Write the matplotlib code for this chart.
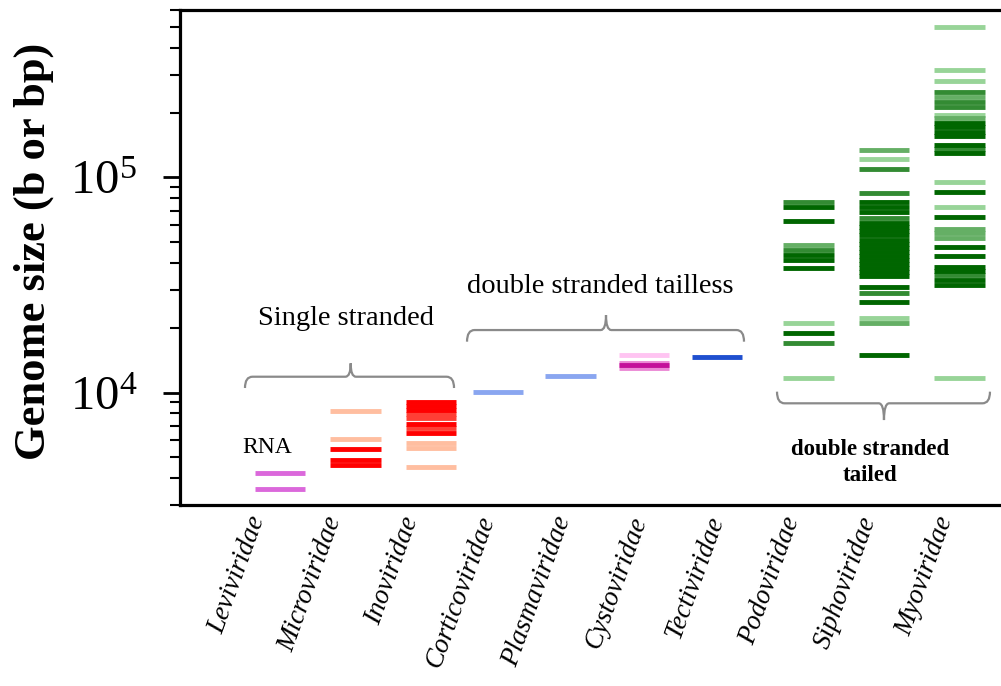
import numpy as np
import matplotlib
matplotlib.use('Agg')
import matplotlib.pyplot as plt
from matplotlib.path import Path
from matplotlib.patches import PathPatch
from matplotlib.colors import LinearSegmentedColormap
from matplotlib.ticker import FixedLocator, FuncFormatter, NullFormatter, LogLocator

plt.rcParams['font.family'] = ['Liberation Serif', 'DejaVu Serif']

# ---------------- data (genome sizes, b or bp; counts = genomes at that size) ----------------
families = ['Leviviridae', 'Microviridae', 'Inoviridae', 'Corticoviridae', 'Plasmaviridae',
            'Cystoviridae', 'Tectiviridae', 'Podoviridae', 'Siphoviridae', 'Myoviridae']

levi_sizes = [4236, 3548]
levi_counts = [2, 2]

micro_sizes = [8226, 6080, 5458, 4853, 4602]
micro_counts = [1, 1, 4, 4, 4]

ino_sizes = [9035, 8652, 8290, 7943, 7608, 7133, 6834, 6486, 5846, 5495, 4487]
ino_counts = [4, 4, 4, 3, 3, 4, 3, 4, 1, 1, 1]

cortico_sizes = [10021]
cortico_counts = [1]

plasma_sizes = [11970]
plasma_counts = [1]

cysto_sizes = [14938, 13700, 13384, 13050]
cysto_counts = [1, 2, 4, 2]

tecti_sizes = [14676]
tecti_counts = [4]

podo_sizes = [77190, 73140, 62950, 48530, 46030, 43600, 41300, 38020, 21120, 18850, 16940, 11720]
podo_counts = [3, 4, 4, 2, 3, 4, 4, 4, 1, 4, 3, 1]

sipho_sizes = [134300, 121500, 109200, 84440, 77190, 73140, 69340, 64570,
               61230, 58530, 56090, 53710, 51170, 49060, 46990, 45030, 43150,
               41300, 39630, 37930, 36350, 34640,
               31050, 28930, 26440, 22130, 21120, 14940]
sipho_counts = [2, 1, 3, 3, 4, 4, 4, 3,
                4, 4, 4, 4, 4, 4, 4, 4, 4,
                4, 4, 4, 4, 4,
                4, 3, 4, 1, 2, 4]

myo_sizes = [499500, 316200, 281200, 250600, 237500, 225200, 213400, 195300, 188400,
             178600, 171200, 163300, 156000, 141600, 135200, 129600,
             95610, 85900, 72680, 65310, 57410, 55020, 52130, 47640, 43150,
             38460, 36860, 35200, 33360, 31620, 11720]
myo_counts = [1, 1, 1, 3, 2, 3, 3, 1, 2,
              4, 4, 4, 4, 4, 3, 4,
              1, 4, 1, 4, 2, 2, 2, 4, 4,
              4, 4, 3, 4, 4, 1]

all_sizes = [levi_sizes, micro_sizes, ino_sizes, cortico_sizes, plasma_sizes,
             cysto_sizes, tecti_sizes, podo_sizes, sipho_sizes, myo_sizes]
all_counts = [levi_counts, micro_counts, ino_counts, cortico_counts, plasma_counts,
              cysto_counts, tecti_counts, podo_counts, sipho_counts, myo_counts]

# ---------------- style ----------------
light = ['#f09cf0', '#ffbea0', '#ffbea0', '#8aa6f0', '#8aa6f0',
         '#ffc4f2', '#8aa6f0', '#98d498', '#98d498', '#98d498']
dark = ['#b000b0', '#ff0000', '#ff0000', '#1f4fcf', '#1f4fcf',
        '#c4109a', '#1f4fcf', '#006600', '#006600', '#006600']
shift = [0, 0, 0, -0.11, -0.15, -0.18, -0.21, 0, 0, 0]
bar_w = 0.67

fig = plt.figure(figsize=(10.01, 6.86), dpi=100)
ax = fig.add_axes([0.1798, 0.2638, 0.8202, 0.7216])

for i in range(len(families)):
    cmap = LinearSegmentedColormap.from_list('c%d' % i, [light[i], dark[i]])
    sizes = np.array(all_sizes[i])
    counts = np.array(all_counts[i])
    order = np.argsort(counts, kind='stable')
    x = i + shift[i]
    ax.hlines(sizes[order], x - bar_w / 2, x + bar_w / 2,
              colors=cmap((counts[order] - 1) / 3.0), lw=3.5)

ax.set_yscale('log')
ax.set_ylim(3000, 6e5)
ax.set_xlim(-1.325, 9.55)

# axes frame
for s in ['left', 'top', 'bottom']:
    ax.spines[s].set_linewidth(2.3)
ax.spines['right'].set_visible(False)
ax.set_xticks([])
ax.yaxis.set_major_locator(FixedLocator([1e4, 1e5]))
ax.yaxis.set_major_formatter(FuncFormatter(lambda v, p: r'$\mathregular{10^{%d}}$' % round(np.log10(v))))
ax.yaxis.set_minor_locator(LogLocator(base=10, subs=np.arange(2, 10)))
ax.yaxis.set_minor_formatter(NullFormatter())
ax.tick_params(axis='y', which='major', length=12, width=2, labelsize=35, pad=19)
ax.tick_params(axis='y', which='minor', length=7.5, width=1.5)

fig.text(34 / 1001, 1 - 251 / 686, 'Genome size (b or bp)', rotation=90,
         fontsize=32, fontweight='bold', ha='center', va='center')

# ---------------- category labels ----------------
trans = ax.get_xaxis_transform()
for i, name in enumerate(families):
    ax.text(i * 1.012 - 0.13, -0.016, name, transform=trans, rotation=70,
            ha='right', va='top', fontsize=19.5, style='italic')


# ---------------- braces ----------------
def brace(x0, x1, xm, y, h, tip, r=0.1, rt=0.07):
    verts = [(x0, y - h), (x0, y), (x0 + r, y), (xm - rt, y), (xm, y), (xm, y + tip),
             (xm, y), (xm + rt, y), (x1 - r, y), (x1, y), (x1, y - h)]
    codes = [Path.MOVETO, Path.CURVE3, Path.CURVE3, Path.LINETO, Path.CURVE3, Path.CURVE3,
             Path.CURVE3, Path.CURVE3, Path.LINETO, Path.CURVE3, Path.CURVE3]
    ax.add_patch(PathPatch(Path(verts, codes), transform=trans, fill=False,
                           ec='#8a8a8a', lw=1.6, clip_on=False))


brace(-0.464, 2.305, 0.936, 0.2592, 0.0228, 0.0271)
brace(2.477, 6.146, 4.318, 0.3535, 0.0235, 0.0303)
brace(6.583, 9.404, 8.0, 0.2055, -0.0235, -0.0338)

ax.text(0.874, 0.3778, 'Single stranded', transform=trans, fontsize=20.5,
        ha='center', va='center')
ax.text(4.238, 0.4424, 'double stranded tailless', transform=trans, fontsize=20.5,
        ha='center', va='center')
ax.text(-0.166, 0.116, 'RNA', transform=trans, fontsize=17, ha='center', va='center')
ax.text(7.815, 0.0859, 'double stranded\ntailed', transform=trans, fontsize=16.5,
        fontweight='bold', ha='center', va='center', linespacing=1.35,
        multialignment='center')

fig.savefig('out.png', dpi=100)
